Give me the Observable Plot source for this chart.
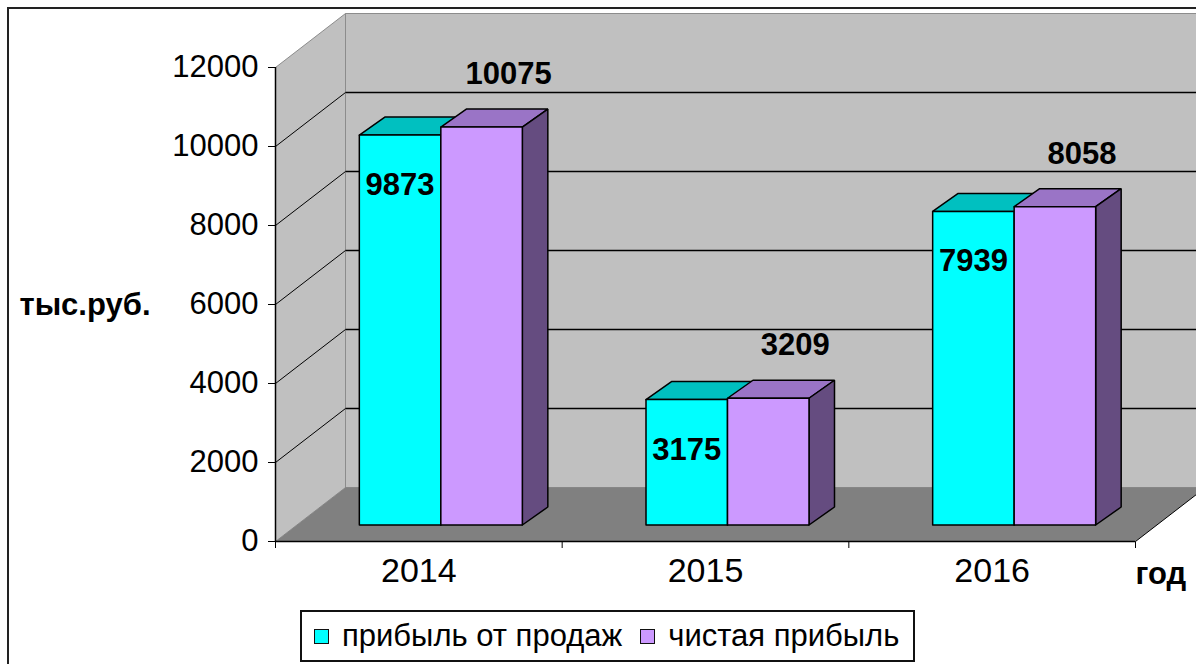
<!DOCTYPE html>
<html><head><meta charset="utf-8">
<script src="https://cdn.jsdelivr.net/npm/d3@7"></script>
<script src="https://cdn.jsdelivr.net/npm/@observablehq/plot@0.6"></script>
<style>
html,body{margin:0;padding:0;background:#fff;overflow:hidden;width:1196px;height:664px;}
#chart svg{display:block;overflow:hidden;}
#frame{position:absolute;left:7px;top:7px;width:1300px;height:700px;border:2px solid #222;pointer-events:none;}
.legend{margin-left:300px;margin-top:10px;box-sizing:border-box;width:615px;height:52px;border:2px solid #111;
  display:flex;align-items:center;padding-left:12px;font-family:'Liberation Sans',Arial,sans-serif;font-size:31px;color:#000;}
.legend .item{display:flex;align-items:center;margin-right:18px;white-space:nowrap;}
.legend .sw{width:15px;height:15px;box-sizing:border-box;border:1.5px solid #111;margin-right:13px;}
</style></head><body>
<div id="chart"></div>
<div id="legend" class="legend"></div>
<div id="frame"></div>
<script>
// ---- data ----
const years = ["2014", "2015", "2016"];
const salesProfit = [9873, 3175, 7939];
const netProfit = [10075, 3209, 8058];
const seriesNames = ["прибыль от продаж", "чистая прибыль"];
const yTicks = [0, 2000, 4000, 6000, 8000, 10000, 12000];
const yAxisTitle = "тыс.руб.";
const xAxisTitle = "год";

// ---- style / layout ----
const W = 1196, H = 600, ML = 275, MR = 61, MT = 67, MB = 59;
const yMax = 12000;
const frontColors = ["#00ffff", "#cc99ff"];
const topColors = ["#00c0c0", "#9a74c6"];
const sideColors = ["#008080", "#654c80"];
const WALL_DX = 70, WALL_DY = 54;      // depth of the 3D box, px
const BAR_FRONT = [22, 16.5], BAR_BACK = [47.5, 34.5]; // bar depth planes, px
const BAR_W_PX = 81.5;
const FONT = "'Liberation Sans', Arial, sans-serif";

const n = years.length;
const series = [salesProfit, netProfit];
const XS = (W - ML - MR) / n, YS = (H - MT - MB) / yMax;
const ox = px => px / XS, oy = px => px / YS;
const bx = ox(WALL_DX), by = oy(WALL_DY);

// polygons (closed lines)
let pid = 0;
function poly(arr, pts, fill) {
  pid++;
  for (const [x, y] of [...pts, pts[0]]) arr.push({id: pid, x, y, fill});
}
const walls = [], floor = [], bars = [];
poly(walls, [[0, 0], [0, yMax], [bx, yMax + by], [bx, by]], "#c0c0c0");
poly(walls, [[bx, by], [bx, yMax + by], [n + bx, yMax + by], [n + bx, by]], "#c0c0c0");
poly(floor, [[0, 0], [n, 0], [n + bx, by], [bx, by]], "#808080");

const bw = ox(BAR_W_PX);
const fx = ox(BAR_FRONT[0]), fy = oy(BAR_FRONT[1]);
const kx = ox(BAR_BACK[0]), ky = oy(BAR_BACK[1]);
const labels = [];
years.forEach((yr, i) => {
  series.forEach((vals, s) => {
    const v = vals[i];
    const xL = i + 0.5 - bw + s * bw, xR = xL + bw;
    poly(bars, [[xL + fx, v + fy], [xR + fx, v + fy], [xR + kx, v + ky], [xL + kx, v + ky]], topColors[s]);
    poly(bars, [[xR + fx, fy], [xR + fx, v + fy], [xR + kx, v + ky], [xR + kx, ky]], sideColors[s]);
    poly(bars, [[xL + fx, fy], [xL + fx, v + fy], [xR + fx, v + fy], [xR + fx, fy]], frontColors[s]);
    labels.push({x: (xL + xR) / 2, y: v, s, text: String(v)});
  });
});

const inner = yTicks.filter(v => v > 0 && v < yMax);
const gridBack = inner.map(v => ({x1: bx, x2: n + bx, y1: v + by, y2: v + by}));
const gridSide = inner.map(v => ({x1: 0, y1: v, x2: bx, y2: v + by}));
const floorEdge = [{x1: n, y1: 0, x2: n + bx, y2: by}];

const chart = Plot.plot({
  width: W, height: H,
  marginLeft: ML, marginRight: MR, marginTop: MT, marginBottom: MB,
  style: {fontFamily: FONT, fontSize: "31px", color: "#000", background: "transparent", overflow: "hidden"},
  color: {type: "identity"},
  x: {domain: [0, n], ticks: d3.range(n + 1), tickSize: 7, tickFormat: () => "", label: null},
  y: {domain: [0, yMax], ticks: yTicks, tickSize: 7, tickPadding: 10, tickFormat: d => String(d), label: null},
  marks: [
    Plot.line(walls, {x: "x", y: "y", z: "id", fill: "fill", stroke: "#8c8c8c", strokeWidth: 1, curve: "linear"}),
    Plot.line(floor, {x: "x", y: "y", z: "id", fill: "fill", stroke: "none", curve: "linear"}),
    Plot.link(gridBack, {x1: "x1", y1: "y1", x2: "x2", y2: "y2", stroke: "#000", strokeWidth: 1.5}),
    Plot.link(gridSide, {x1: "x1", y1: "y1", x2: "x2", y2: "y2", stroke: "#000", strokeWidth: 1}),
    Plot.link(floorEdge, {x1: "x1", y1: "y1", x2: "x2", y2: "y2", stroke: "#000", strokeWidth: 1}),
    Plot.line(bars, {x: "x", y: "y", z: "id", fill: "fill", stroke: "#000", strokeWidth: 1.5, strokeLinejoin: "miter", curve: "linear"}),
    Plot.ruleX([0], {y1: 0, y2: yMax, stroke: "#000", strokeWidth: 1.5}),
    Plot.ruleY([0], {x1: 0, x2: n, stroke: "#000", strokeWidth: 1.5}),
    Plot.text(years, {x: (d, i) => i + 0.5, y: 0, text: d => d, dy: 30, fontSize: 34, fill: "#000"}),
    Plot.text([yAxisTitle], {x: 0, y: yMax / 2, text: d => d, textAnchor: "end", dx: -125, dy: 1, fontSize: 31, fontWeight: "bold", fill: "#000"}),
    Plot.text([xAxisTitle], {x: n, y: 0, text: d => d, textAnchor: "start", dx: 0, dy: 33, fontSize: 31, fontWeight: "bold", fill: "#000"}),
    Plot.text(labels.filter(d => d.s === 0), {x: "x", y: "y", text: "text", dx: BAR_FRONT[0], dy: -BAR_FRONT[1] + 50, fontSize: 31, fontWeight: "bold", fill: "#000"}),
    Plot.text(labels.filter(d => d.s === 1), {x: "x", y: "y", text: "text", dx: BAR_FRONT[0] + 27, dy: -BAR_FRONT[1] - 53, fontSize: 31, fontWeight: "bold", fill: "#000"})
  ]
});
document.getElementById("chart").appendChild(chart);

const leg = document.getElementById("legend");
seriesNames.forEach((name, s) => {
  const item = document.createElement("div");
  item.className = "item";
  const sw = document.createElement("div");
  sw.className = "sw";
  sw.style.background = frontColors[s];
  const t = document.createElement("span");
  t.textContent = name;
  item.appendChild(sw); item.appendChild(t);
  leg.appendChild(item);
});
</script>
</body></html>
